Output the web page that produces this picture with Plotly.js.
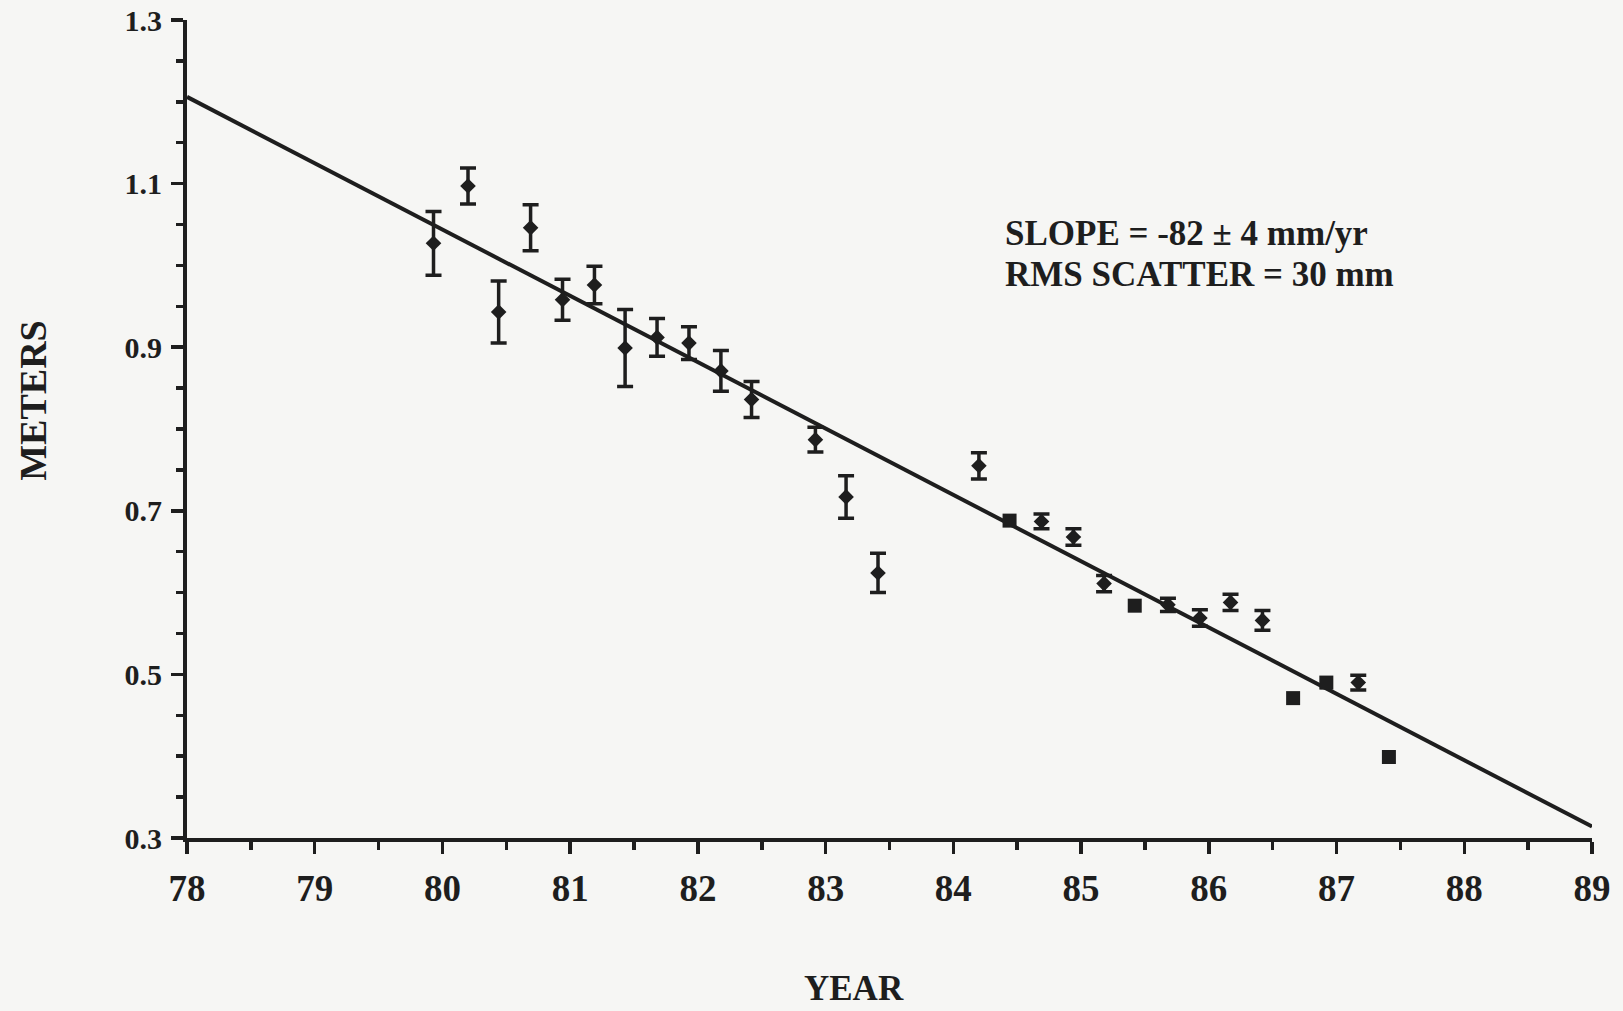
<!DOCTYPE html>
<html>
<head>
<meta charset="utf-8">
<script src="https://cdn.plot.ly/plotly-3.0.1.min.js"></script>
<style>
  html, body { margin: 0; padding: 0; background: #f6f6f4; }
  #chart { width: 1623px; height: 1011px; }
</style>
</head>
<body>
<div id="chart"></div>
<script>
// Measurements with error bars (diamond markers)
const diamondYears  = [79.93, 80.20, 80.44, 80.69, 80.94, 81.19, 81.43, 81.68, 81.93, 82.18, 82.42, 82.92, 83.16, 83.41, 84.20, 84.69, 84.94, 85.18, 85.68, 85.93, 86.17, 86.42, 87.17];
const diamondMeters = [1.027, 1.097, 0.943, 1.046, 0.958, 0.976, 0.899, 0.912, 0.905, 0.871, 0.836, 0.787, 0.717, 0.624, 0.755, 0.687, 0.668, 0.611, 0.585, 0.569, 0.588, 0.566, 0.490];
const diamondErr    = [0.039, 0.022, 0.038, 0.028, 0.025, 0.023, 0.047, 0.023, 0.020, 0.025, 0.022, 0.015, 0.026, 0.024, 0.016, 0.009, 0.010, 0.010, 0.008, 0.010, 0.010, 0.012, 0.009];

// Measurements drawn as squares
const squareYears  = [84.44, 85.42, 86.66, 86.92, 87.41];
const squareMeters = [0.688, 0.584, 0.471, 0.490, 0.399];
const squareErr    = [0.005, 0.000, 0.000, 0.006, 0.000];

// Fitted trend line (end points)
const fitYears  = [78, 89];
const fitMeters = [1.206, 0.314];

// Axis ticks
const xTickVals = [78, 79, 80, 81, 82, 83, 84, 85, 86, 87, 88, 89];
const xTickText = ["78", "79", "80", "81", "82", "83", "84", "85", "86", "87", "88", "89"];
const yTickVals = [0.3, 0.5, 0.7, 0.9, 1.1, 1.3];
const yTickText = ["0.3", "0.5", "0.7", "0.9", "1.1", "1.3"];

const xTitle = "YEAR";
const yTitle = "METERS";
const slopeText = "SLOPE = -82 ± 4 mm/yr";
const rmsText   = "RMS SCATTER = 30 mm";

const ink = "#1e1e1e";
const serif = "Liberation Serif, Times New Roman, serif";

const traces = [
  {
    x: fitYears, y: fitMeters, type: "scatter", mode: "lines",
    line: { color: ink, width: 4 }, hoverinfo: "skip", showlegend: false
  },
  {
    x: diamondYears, y: diamondMeters, type: "scatter", mode: "markers",
    marker: { symbol: "diamond", size: 12, color: ink },
    error_y: { type: "data", array: diamondErr, visible: true, color: ink, thickness: 3.5, width: 8 },
    showlegend: false
  },
  {
    x: squareYears, y: squareMeters, type: "scatter", mode: "markers",
    marker: { symbol: "square", size: 14, color: ink },
    error_y: { type: "data", array: squareErr, visible: true, color: ink, thickness: 3.5, width: 6 },
    showlegend: false
  }
];

const layout = {
  width: 1623, height: 1011,
  paper_bgcolor: "#f6f6f4", plot_bgcolor: "#f6f6f4",
  margin: { l: 187, r: 31, t: 20, b: 173 },
  font: { family: serif, color: ink, weight: "bold" },
  showlegend: false,
  xaxis: {
    range: [78, 89], autorange: false,
    tickmode: "array", tickvals: xTickVals, ticktext: xTickText,
    ticks: "outside", ticklen: 12, tickwidth: 3.5, tickcolor: ink,
    minor: { tick0: 78, dtick: 0.5, ticks: "outside", ticklen: 8, tickwidth: 3.5, tickcolor: ink },
    showline: true, linewidth: 4, linecolor: ink, mirror: false,
    showgrid: false, zeroline: false,
    tickfont: { family: serif, size: 37, color: ink, weight: "bold" },
    ticklabelstandoff: 3,
    automargin: false
  },
  yaxis: {
    range: [0.3, 1.3], autorange: false,
    tickmode: "array", tickvals: yTickVals, ticktext: yTickText,
    ticks: "outside", ticklen: 12, tickwidth: 3.5, tickcolor: ink,
    minor: { tick0: 0.3, dtick: 0.05, ticks: "outside", ticklen: 7, tickwidth: 3.5, tickcolor: ink },
    showline: true, linewidth: 4, linecolor: ink, mirror: false,
    showgrid: false, zeroline: false,
    tickfont: { family: serif, size: 30, color: ink, weight: "bold" },
    ticklabelstandoff: 3,
    automargin: false
  },
  annotations: [
    { x: 0.4747, y: -0.2103, xref: "paper", yref: "paper", text: xTitle, showarrow: false,
      xanchor: "center", yanchor: "bottom", font: { family: serif, size: 35, color: ink, weight: "bold" } },
    { x: -0.1092, y: 0.534, xref: "paper", yref: "paper", text: yTitle, showarrow: false, textangle: -90,
      xanchor: "center", yanchor: "middle", font: { family: serif, size: 38, color: ink, weight: "bold" } },
    { x: 84.39, y: 1.0384, xref: "x", yref: "y", text: slopeText, showarrow: false,
      xanchor: "left", yanchor: "middle", font: { family: serif, size: 35, color: ink, weight: "bold" } },
    { x: 84.39, y: 0.9883, xref: "x", yref: "y", text: rmsText, showarrow: false,
      xanchor: "left", yanchor: "middle", font: { family: serif, size: 35, color: ink, weight: "bold" } }
  ]
};

Plotly.newPlot("chart", traces, layout, { displayModeBar: false, staticPlot: true });
</script>
</body>
</html>
